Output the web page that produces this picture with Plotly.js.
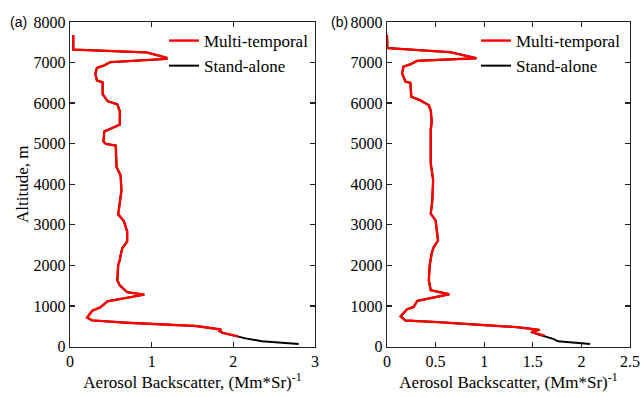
<!DOCTYPE html>
<html>
<head>
<meta charset="utf-8">
<script src="https://cdn.plot.ly/plotly-3.0.1.min.js"></script>
<style>html,body{margin:0;padding:0;background:#fff;}#chart{width:641px;height:397px;}</style>
</head>
<body>
<div id="chart"></div>
<script>
// Panel (a) Multi-temporal (red)
const altA_red = [7680,7470,7320,7250,7120,7090,7010,6930,6870,6800,6720,6560,6510,6220,6050,5970,5800,5470,5346,5300,5054,4995,4953,4427,4217,3842,3548,3257,3089,2840,2588,2422,2250,2131,2007,1630,1506,1338,1279,1198,1114,963,879,711,644,585,504,420,380,336,250];
const valA_red = [0.04,0.035,0.04,0.94,1.18,1.18,0.49,0.42,0.33,0.32,0.31,0.33,0.40,0.40,0.46,0.58,0.61,0.61,0.46,0.42,0.41,0.44,0.56,0.57,0.62,0.63,0.61,0.59,0.66,0.70,0.70,0.64,0.62,0.61,0.59,0.58,0.61,0.70,0.91,0.70,0.46,0.37,0.27,0.21,0.27,0.70,1.54,1.85,1.83,1.87,2.06];
// Panel (a) Stand-alone (black)
const altA_blk = [7680,7470,7320,7250,7120,7090,7010,6930,6870,6800,6720,6560,6510,6220,6050,5970,5800,5470,5346,5300,5054,4995,4953,4427,4217,3842,3548,3257,3089,2840,2588,2422,2250,2131,2007,1630,1506,1338,1279,1198,1114,963,879,711,644,585,504,420,380,336,270,200,130,100,60];
const valA_blk = [0.04,0.035,0.04,0.94,1.18,1.18,0.49,0.42,0.33,0.32,0.31,0.33,0.40,0.40,0.46,0.58,0.61,0.61,0.46,0.42,0.41,0.44,0.56,0.57,0.62,0.63,0.61,0.59,0.66,0.70,0.70,0.64,0.62,0.61,0.59,0.58,0.61,0.70,0.91,0.70,0.46,0.37,0.27,0.21,0.27,0.70,1.54,1.85,1.83,1.87,2.00,2.15,2.35,2.55,2.80];
// Panel (b) Multi-temporal (red)
const altB_red = [7686,7356,7257,7106,7042,6958,6900,6733,6528,6501,6156,6072,5948,5822,5533,5346,5160,5015,4516,4104,3565,3274,3109,2612,2447,2299,2156,2010,1637,1388,1289,1198,1123,975,916,743,642,602,477,435,410,378,355,269];
const valB_red = [0.0,0.004,0.65,0.92,0.31,0.24,0.17,0.155,0.19,0.24,0.25,0.34,0.43,0.45,0.46,0.45,0.45,0.45,0.45,0.475,0.465,0.45,0.50,0.525,0.48,0.46,0.45,0.44,0.43,0.45,0.64,0.46,0.31,0.275,0.205,0.14,0.19,0.51,1.34,1.48,1.57,1.50,1.49,1.62];
// Panel (b) Stand-alone (black)
const altB_blk = [7686,7356,7257,7106,7042,6958,6900,6733,6528,6501,6156,6072,5948,5822,5533,5346,5160,5015,4516,4104,3565,3274,3109,2612,2447,2299,2156,2010,1637,1388,1289,1198,1123,975,916,743,642,602,477,435,410,378,355,300,240,188,128,95,62];
const valB_blk = [0.0,0.004,0.65,0.92,0.31,0.24,0.17,0.155,0.19,0.24,0.25,0.34,0.43,0.45,0.46,0.45,0.45,0.45,0.45,0.475,0.465,0.45,0.50,0.525,0.48,0.46,0.45,0.44,0.43,0.45,0.64,0.46,0.31,0.275,0.205,0.14,0.19,0.51,1.34,1.48,1.57,1.50,1.49,1.55,1.63,1.71,1.76,1.90,2.09];

const seriesNames = ["Multi-temporal","Stand-alone"];
const yTicks = [0,1000,2000,3000,4000,5000,6000,7000,8000];
const xTicksA = [0,1,2,3];
const xTicksB = [0,0.5,1,1.5,2,2.5];
const xTickTextB = ["0","0.5","1","1.5","2","2.5"];
const xTitle = "Aerosol Backscatter, (Mm*Sr)<sup>-1</sup>";
const yTitle = "Altitude, m";

const serif = "Liberation Serif";
const traces = [
  {x: valA_blk, y: altA_blk, xaxis:'x', yaxis:'y', mode:'lines', name: seriesNames[1], line:{color:'#000000', width:2}, legend:'legend', legendrank:2},
  {x: valA_red, y: altA_red, xaxis:'x', yaxis:'y', mode:'lines', name: seriesNames[0], line:{color:'#ff0000', width:2.4}, legend:'legend', legendrank:1},
  {x: valB_blk, y: altB_blk, xaxis:'x2', yaxis:'y2', mode:'lines', name: seriesNames[1], line:{color:'#000000', width:2}, legend:'legend2', legendrank:2},
  {x: valB_red, y: altB_red, xaxis:'x2', yaxis:'y2', mode:'lines', name: seriesNames[0], line:{color:'#ff0000', width:2.4}, legend:'legend2', legendrank:1}
];

const axBase = {
  showline:true, mirror:'ticks', linecolor:'#222', linewidth:1.3,
  ticks:'inside', ticklen:5, tickcolor:'#222', tickwidth:1.3,
  showgrid:false, zeroline:false,
  tickfont:{family:serif, size:16, color:'#000'}
};
const layout = {
  width:641, height:397,
  margin:{l:0,r:0,t:0,b:0},
  paper_bgcolor:'#fff', plot_bgcolor:'#fff',
  font:{family:serif, color:'#000'},
  xaxis: Object.assign({}, axBase, {domain:[70/641, 315/641], range:[0,3], tickvals:xTicksA, anchor:'y',
    title:{text:xTitle, font:{family:serif,size:17,color:'#000'}, standoff:5}}),
  yaxis: Object.assign({}, axBase, {domain:[50.5/397, 375/397], range:[0,8000], tickvals:yTicks, anchor:'x',
    title:{text:yTitle, font:{family:serif,size:17,color:'#000'}, standoff:0}}),
  xaxis2: Object.assign({}, axBase, {domain:[387/641, 630/641], range:[0,2.5], tickvals:xTicksB, ticktext:xTickTextB, anchor:'y2',
    title:{text:xTitle, font:{family:serif,size:17,color:'#000'}, standoff:5}}),
  yaxis2: Object.assign({}, axBase, {domain:[50.5/397, 375/397], range:[0,8000], tickvals:yTicks, anchor:'x2'}),
  legend: {x:164/641, y:(397-23)/397, xanchor:'left', yanchor:'top', bgcolor:'rgba(0,0,0,0)',
    font:{family:serif, size:17, color:'#000'}, tracegroupgap:0},
  legend2: {x:476/641, y:(397-23)/397, xanchor:'left', yanchor:'top', bgcolor:'rgba(0,0,0,0)',
    font:{family:serif, size:17, color:'#000'}, tracegroupgap:0},
  annotations:[
    {text:'(a)', x:8/641, y:(397-22)/397, xref:'paper', yref:'paper', xanchor:'left', yanchor:'middle', showarrow:false, font:{family:'Liberation Sans', size:14, color:'#000'}},
    {text:'(b)', x:329/641, y:(397-22)/397, xref:'paper', yref:'paper', xanchor:'left', yanchor:'middle', showarrow:false, font:{family:'Liberation Sans', size:14, color:'#000'}}
  ],
  showlegend:true
};
Plotly.newPlot('chart', traces, layout, {displayModeBar:false, staticPlot:true});
</script>
</body>
</html>
